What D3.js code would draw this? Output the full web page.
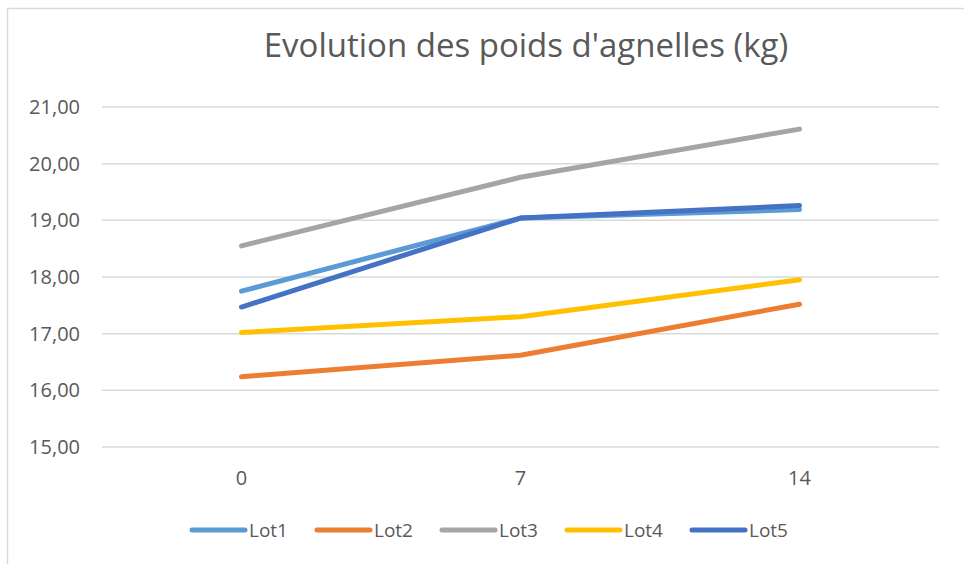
<!DOCTYPE html>
<html>
<head>
<meta charset="utf-8">
<script src="https://cdn.jsdelivr.net/npm/d3@7"></script>
<style>
  body { margin: 0; background: #fff; }
  svg text { font-family: "Open Sans", "Noto Sans", sans-serif; fill: #595959; }
</style>
</head>
<body>
<div id="chart"></div>
<script>
const days = ["0", "7", "14"];
const lots = ["Lot1", "Lot2", "Lot3", "Lot4", "Lot5"];
const lot1 = [17.75, 19.04, 19.19];
const lot2 = [16.24, 16.62, 17.52];
const lot3 = [18.55, 19.76, 20.61];
const lot4 = [17.02, 17.30, 17.95];
const lot5 = [17.47, 19.04, 19.26];
const yTicks = [15, 16, 17, 18, 19, 20, 21];
const colors = ["#5B9BD5", "#ED7D31", "#A5A5A5", "#FFC000", "#4472C4"];

const series = lots.map((name, i) => ({ name, values: [lot1, lot2, lot3, lot4, lot5][i], color: colors[i] }));

const width = 964, height = 564;
const margin = { top: 107, right: 25, bottom: 117, left: 102 };

const svg = d3.select("#chart").append("svg")
  .attr("width", width)
  .attr("height", height);

// chart border (only top/left visible)
svg.append("rect")
  .attr("x", 7.5).attr("y", 8.5)
  .attr("width", 1000).attr("height", 600)
  .attr("fill", "none")
  .attr("stroke", "#d9d9d9")
  .attr("stroke-width", 1.5);

const x = d3.scaleBand().domain(days).range([margin.left, width - margin.right]);
const y = d3.scaleLinear().domain([15, 21]).range([height - margin.bottom, margin.top]);

svg.append("text")
  .attr("x", 526).attr("y", 57)
  .attr("text-anchor", "middle")
  .style("font-size", "33px")
  .text("Evolution des poids d'agnelles (kg)");

// gridlines
svg.append("g")
  .selectAll("line")
  .data(yTicks)
  .enter()
  .append("line")
  .attr("x1", margin.left)
  .attr("x2", width - margin.right)
  .attr("y1", d => y(d))
  .attr("y2", d => y(d))
  .attr("stroke", "#d9d9d9")
  .attr("stroke-width", 1.5);

// y axis labels
const fmt = d => d3.format(".2f")(d).replace(".", ",");
const yAxis = svg.append("g")
  .attr("transform", `translate(${margin.left - 22},0)`)
  .call(d3.axisLeft(y).tickValues(yTicks).tickFormat(fmt).tickSize(0).tickPadding(0));
yAxis.select(".domain").remove();
yAxis.selectAll("text")
  .style("font-size", "20px")
  .style("font-family", "'Open Sans', sans-serif")
  .attr("fill", "#595959");

// x axis labels
const xAxis = svg.append("g")
  .attr("transform", `translate(0,${y(15) + 24})`)
  .call(d3.axisBottom(x).tickSize(0).tickPadding(0));
xAxis.select(".domain").remove();
xAxis.selectAll("text")
  .style("font-size", "20px")
  .style("font-family", "'Open Sans', sans-serif")
  .attr("fill", "#595959");

const line = d3.line()
  .x((d, i) => x(days[i]) + x.bandwidth() / 2)
  .y(d => y(d));

svg.append("g")
  .selectAll("path")
  .data(series)
  .enter()
  .append("path")
  .attr("d", d => line(d.values))
  .attr("fill", "none")
  .attr("stroke", d => d.color)
  .attr("stroke-width", 5)
  .attr("stroke-linecap", "round")
  .attr("stroke-linejoin", "round");

// legend
const legendX = [192, 317, 442, 567, 692];
const legend = svg.append("g")
  .selectAll("g")
  .data(series)
  .enter()
  .append("g")
  .attr("transform", (d, i) => `translate(${legendX[i]},530)`);
legend.append("line")
  .attr("x1", 0).attr("x2", 53)
  .attr("stroke", d => d.color)
  .attr("stroke-width", 5)
  .attr("stroke-linecap", "round");
legend.append("text")
  .attr("x", 57).attr("y", 7)
  .style("font-size", "19px")
  .text(d => d.name);
</script>
</body>
</html>
